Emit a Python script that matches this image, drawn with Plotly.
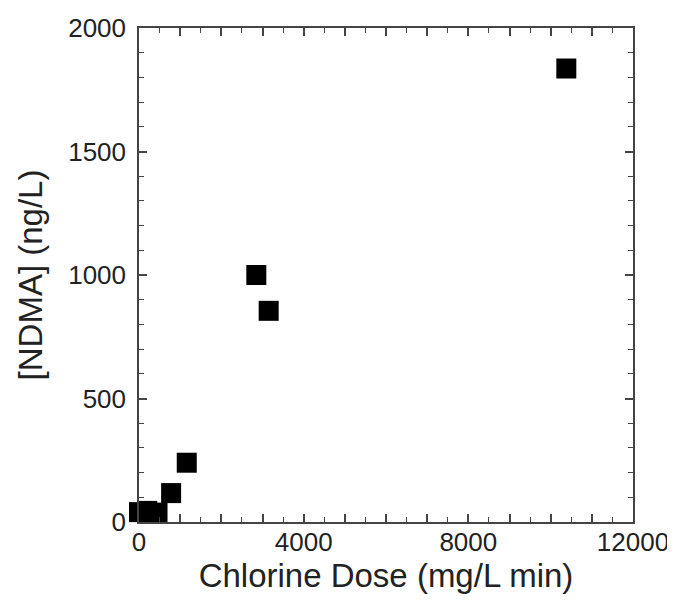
import plotly.graph_objects as go

# chlorine dose (mg/L min) vs NDMA (ng/L)
dose = [0, 200, 450, 780, 1160, 2850, 3150, 10380]
ndma = [40, 45, 38, 117, 240, 1000, 855, 1836]

x_ticks = list(range(0, 12001, 1000))
x_text = [str(v) if v % 4000 == 0 else "" for v in x_ticks]
y_ticks = list(range(0, 2001, 500))

font = "Liberation Sans, Arial, Helvetica, sans-serif"

fig = go.Figure()
fig.add_trace(go.Scatter(
    x=dose, y=ndma, mode="markers",
    marker=dict(symbol="square", size=20, color="black"),
    cliponaxis=False,
))

axis_common = dict(
    showgrid=False, zeroline=False, automargin=False,
    showline=True, linecolor="#444", linewidth=1.5,
    mirror="allticks", ticks="inside", ticklen=8, tickwidth=1.5, tickcolor="#444",
    tickfont=dict(family=font, size=26, color="#222"),
)

fig.update_xaxes(
    range=[0, 12000], tickvals=x_ticks, ticktext=x_text,
    minor=dict(dtick=500, ticks="inside", ticklen=5, tickwidth=1.2, tickcolor="#444"),
    ticklabelstandoff=-4,
    title=dict(text="Chlorine Dose (mg/L min)", font=dict(family=font, size=33, color="#222"), standoff=8),
    **axis_common,
)
fig.update_yaxes(
    range=[0, 2000], tickvals=y_ticks,
    minor=dict(dtick=100, ticks="inside", ticklen=5, tickwidth=1.2, tickcolor="#444"),
    ticklabelstandoff=6,
    title=dict(text="[NDMA] (ng/L)", font=dict(family=font, size=33, color="#222"), standoff=16),
    **axis_common,
)

# page body has an 8px margin, so shift the plot area up/left by that much
fig.update_layout(
    width=675, height=603,
    margin=dict(l=131, r=50, t=20, b=89),
    plot_bgcolor="white", paper_bgcolor="white",
    showlegend=False,
)

fig.write_html("out.html")
